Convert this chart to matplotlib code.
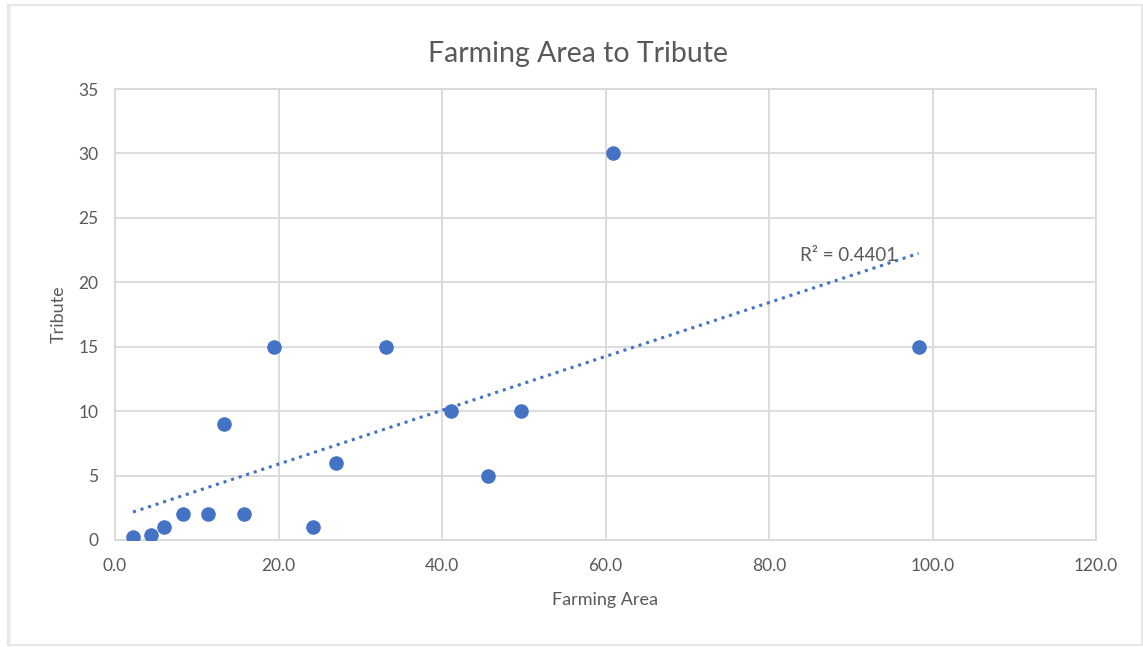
import matplotlib.pyplot as plt
import numpy as np
from matplotlib.patches import Rectangle

# farming area vs tribute
area = np.array([2.2, 4.4, 6.0, 8.3, 11.4, 13.3, 15.8, 19.4, 24.2, 27.0,
                 33.1, 41.1, 45.6, 49.7, 60.9, 98.3])
tribute = np.array([0.2, 0.4, 1, 2, 2, 9, 2, 15, 1, 6,
                    15, 10, 5, 10, 30, 15])
r2_text = "R² = 0.4401"

blue = "#4472C4"
grey = "#595959"
gridc = "#d9d9d9"

plt.rcParams["font.family"] = ["Lato", "DejaVu Sans"]

fig = plt.figure(figsize=(11.43, 6.47), dpi=100)

# chart frame with a soft shadow on the left
for i, a in enumerate([0.10, 0.07, 0.04, 0.02]):
    fig.patches.append(Rectangle(((8 + i) / 1143, 0.0), 1 / 1143, 1 - 5 / 647,
                                 transform=fig.transFigure, color="black",
                                 alpha=a, lw=0, zorder=0))
fig.patches.append(Rectangle((8 / 1143, 2 / 647), 1134 / 1143, 640 / 647,
                             transform=fig.transFigure, fill=False,
                             edgecolor="#e6e6e6", lw=1.5, zorder=0))

ax = fig.add_axes([115 / 1143, 1 - 540 / 647, 981 / 1143, 451 / 647])

ax.scatter(area, tribute, s=110, color=blue, zorder=3, linewidths=0)

# linear trendline
m, c = np.polyfit(area, tribute, 1)
xs = np.array([area.min(), area.max()])
ax.plot(xs, m * xs + c, color=blue, lw=2.2, ls=(0, (1, 1.6)), zorder=2)
ax.text(83.8, 22.1, r2_text, fontsize=13.5, color=grey, va="center", ha="left")

ax.set_xlim(0, 120)
ax.set_ylim(0, 35)
ax.set_xticks(np.arange(0, 121, 20))
ax.set_xticklabels([f"{v:.1f}" for v in np.arange(0, 121, 20)])
ax.set_yticks(np.arange(0, 36, 5))
ax.grid(True, color=gridc, lw=1.3)
ax.set_axisbelow(True)
for s in ax.spines.values():
    s.set_color(gridc)
    s.set_linewidth(1.3)
ax.tick_params(length=0, colors=grey, labelsize=12.5)
ax.tick_params(axis="x", pad=13)
ax.tick_params(axis="y", pad=12)

ax.set_xlabel("Farming Area", fontsize=13, color=grey, labelpad=13)
ax.set_ylabel("Tribute", fontsize=13, color=grey, labelpad=8)
fig.text(578 / 1143, 1 - 54 / 647, "Farming Area to Tribute", fontsize=20.5,
         color=grey, ha="center", va="center")

fig.savefig("out.png", dpi=100)
